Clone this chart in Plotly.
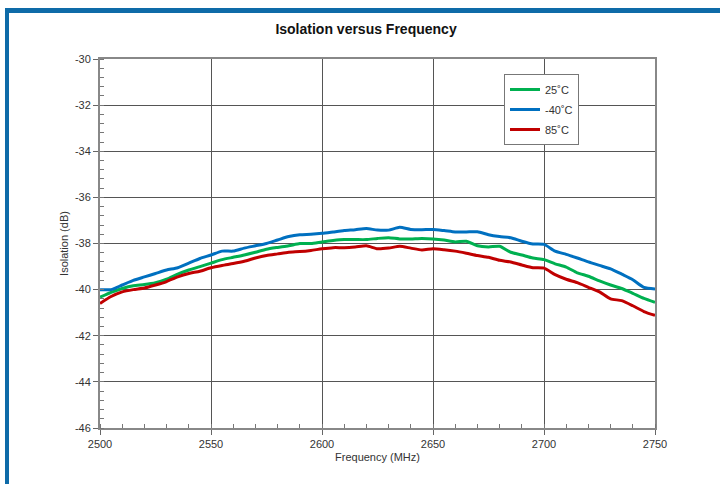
import plotly.graph_objects as go

FONT = "Arial, Liberation Sans, sans-serif"
GRID = "#555555"
FRAME = "#0E6BA8"

freq = list(range(2500, 2751, 5))

iso_25c = [
    -40.33, -40.12, -39.95, -39.83, -39.78, -39.70, -39.55, -39.33, -39.15, -39.00,
    -38.85, -38.70, -38.60, -38.50, -38.38, -38.25, -38.17, -38.10, -38.00, -38.00,
    -37.93, -37.87, -37.83, -37.83, -37.83, -37.78, -37.75, -37.80, -37.80, -37.78,
    -37.80, -37.85, -37.93, -37.90, -38.10, -38.15, -38.12, -38.38, -38.50, -38.63,
    -38.70, -38.88, -39.02, -39.27, -39.42, -39.62, -39.80, -39.95, -40.16, -40.38,
    -40.55,
]
iso_m40c = [
    -40.00, -40.00, -39.80, -39.60, -39.45, -39.30, -39.15, -39.05, -38.85, -38.65,
    -38.50, -38.33, -38.33, -38.20, -38.10, -38.00, -37.85, -37.70, -37.62, -37.60,
    -37.56, -37.50, -37.44, -37.40, -37.35, -37.42, -37.42, -37.30, -37.39, -37.40,
    -37.39, -37.44, -37.50, -37.50, -37.49, -37.62, -37.70, -37.75, -37.90, -38.02,
    -38.04, -38.33, -38.47, -38.63, -38.80, -38.95, -39.10, -39.33, -39.57, -39.90,
    -39.97,
]
iso_85c = [
    -40.60, -40.30, -40.10, -40.00, -39.93, -39.80, -39.65, -39.45, -39.30, -39.20,
    -39.05, -38.95, -38.87, -38.77, -38.63, -38.52, -38.45, -38.38, -38.35, -38.30,
    -38.23, -38.18, -38.18, -38.15, -38.10, -38.23, -38.20, -38.12, -38.20, -38.28,
    -38.23, -38.27, -38.33, -38.42, -38.52, -38.60, -38.73, -38.80, -38.93, -39.05,
    -39.07, -39.35, -39.55, -39.70, -39.90, -40.10, -40.40, -40.48, -40.70, -40.95,
    -41.12,
]

y_ticks = [-46, -44, -42, -40, -38, -36, -34, -32, -30]
y_labels = [str(v) for v in y_ticks]

series = [
    ("25˚C", iso_25c, "#00B050"),
    ("-40˚C", iso_m40c, "#0070C0"),
    ("85˚C", iso_85c, "#C00000"),
]

W, H = 722, 484
L, R, T, B = 100, 67, 59, 56


def px_to_paper(x, y):
    # pixel position on the page -> paper coords of the plot area
    return (x - L) / (W - L - R), (H - B - y) / (H - T - B)


fig = go.Figure()
for i, (name, vals, col) in enumerate(series):
    fig.add_trace(go.Scatter(
        x=freq, y=vals, name=name, mode="lines",
        line=dict(color=col, width=3, shape="spline", smoothing=0.6),
        legendgroup=str(i),
    ))

# blue frame round the picture (top and left edges)
x0, y0 = px_to_paper(5, 8)
x1, y1 = px_to_paper(720, 13)
fig.add_shape(type="rect", xref="paper", yref="paper", x0=x0, y0=y0, x1=x1, y1=y1,
              fillcolor=FRAME, line=dict(width=0), layer="above")
x0, y0 = px_to_paper(5, 8)
x1, y1 = px_to_paper(9, 490)
fig.add_shape(type="rect", xref="paper", yref="paper", x0=x0, y0=y0, x1=x1, y1=y1,
              fillcolor=FRAME, line=dict(width=0), layer="above")

lx, ly = px_to_paper(504, 74)
fig.update_layout(
    width=W, height=H,
    paper_bgcolor="white", plot_bgcolor="white",
    font=dict(family=FONT, size=11, color="#333333"),
    margin=dict(l=L, r=R, t=T, b=B, pad=0),
    title=dict(text="<b>Isolation versus Frequency</b>", x=0.507, xanchor="center",
               y=1 - 29 / H, yanchor="middle", font=dict(size=14, color="#111111")),
    showlegend=True,
    legend=dict(x=lx, y=ly, xanchor="left", yanchor="top",
                bgcolor="white", bordercolor="#777777", borderwidth=1,
                font=dict(size=11, color="#333333"), tracegroupgap=1,
                itemwidth=30),
)
fig.update_xaxes(
    range=[2500, 2750], dtick=50, tick0=2500,
    showgrid=True, gridcolor=GRID, gridwidth=1,
    showline=True, linecolor="#888888", linewidth=2, mirror=True,
    ticks="outside", ticklen=5, tickcolor="#666666",
    minor=dict(dtick=10, ticks="inside", ticklen=4, tickcolor="#777777", showgrid=False),
    zeroline=False,
    title=dict(text="Frequency (MHz)", standoff=4, font=dict(size=11, color="#333333")),
)
fig.update_yaxes(
    range=[-46, -30], tickvals=y_ticks, ticktext=y_labels,
    showgrid=True, gridcolor=GRID, gridwidth=1,
    showline=True, linecolor="#888888", linewidth=2, mirror=True,
    ticks="outside", ticklen=5, tickcolor="#666666",
    minor=dict(dtick=0.4, ticks="inside", ticklen=4, tickcolor="#777777", showgrid=False),
    zeroline=False,
    title=dict(text="Isolation (dB)", standoff=4, font=dict(size=11, color="#333333")),
)

fig.write_html("out.html", config={"displayModeBar": False},
               post_script="document.body.style.margin='0';")
